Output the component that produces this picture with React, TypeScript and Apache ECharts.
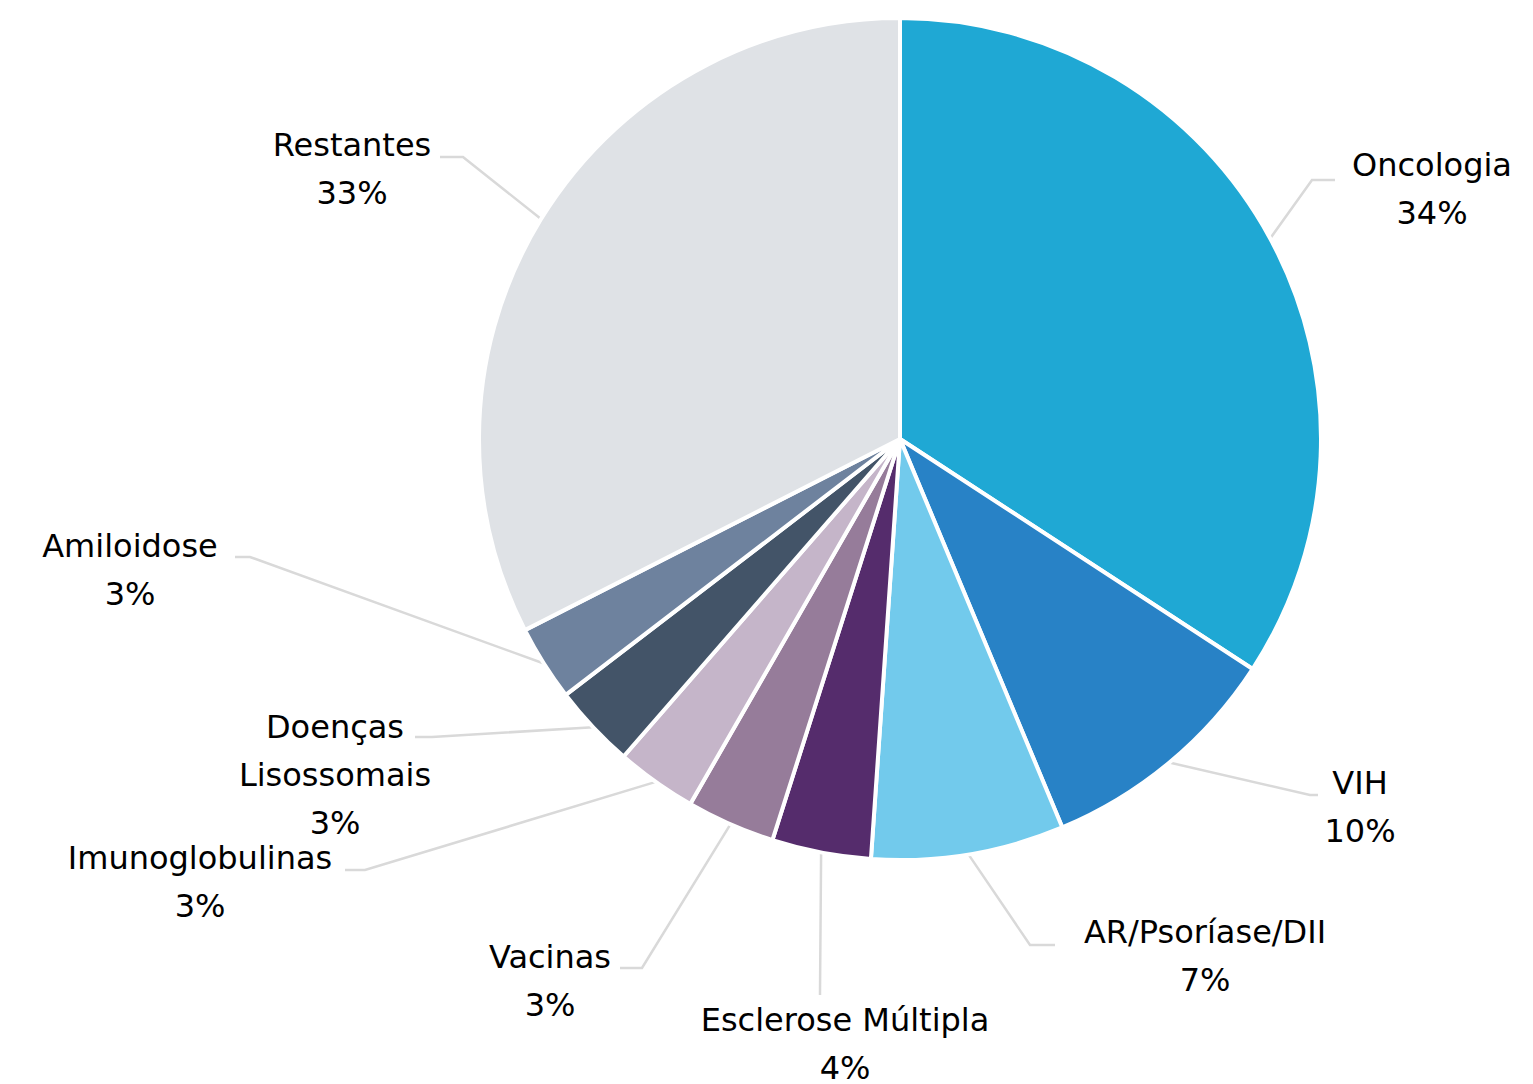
import React, { useEffect, useRef } from "react";
import * as echarts from "echarts";

const categories = [
  "Oncologia",
  "VIH",
  "AR/Psoríase/DII",
  "Esclerose Múltipla",
  "Vacinas",
  "Imunoglobulinas",
  "Doenças\nLisossomais",
  "Amiloidose",
  "Restantes",
];
const values = [34.2, 9.5, 7.4, 3.8, 3.4, 3.1, 3.2, 2.9, 32.5];
const colors = [
  "#1FA8D4",
  "#2882C6",
  "#72CAEC",
  "#552C6C",
  "#967C9A",
  "#C5B5C9",
  "#435468",
  "#6E829E",
  "#DFE2E6",
];

// label layout: [centerX, centerY, elbowX, elbowY, endX, endY]
const labelPlacement = [
  [1432, 189, 1312, 180, 1335, 180],
  [1360, 807, 1310, 795, 1318, 795],
  [1205, 956, 1030, 945, 1055, 945],
  [845, 1044, 820, 993, 820, 995],
  [550, 981, 642, 968, 620, 968],
  [200, 882, 365, 870, 345, 870],
  [335, 775, 432, 737, 415, 737],
  [130, 570, 250, 557, 235, 557],
  [352, 169, 463, 157, 440, 157],
];

export default function App() {
  const ref = useRef<HTMLDivElement>(null);
  useEffect(() => {
    if (!ref.current) return;
    const chart = echarts.init(ref.current, null, { renderer: "svg" });
    chart.setOption({
      animation: false,
      backgroundColor: "#ffffff",
      series: [
        {
          type: "pie",
          center: [900, 439],
          radius: [0, 421],
          startAngle: 90,
          clockwise: true,
          avoidLabelOverlap: false,
          data: categories.map((name, i) => ({
            name,
            value: values[i],
            itemStyle: { color: colors[i] },
          })),
          itemStyle: { borderColor: "#ffffff", borderWidth: 4 },
          label: {
            show: true,
            position: "outside",
            formatter: (p: any) => `${p.name}\n${Math.round(p.value)}%`,
            color: "#000000",
            fontFamily: "DejaVu Sans",
            fontSize: 32,
            lineHeight: 48,
            align: "center",
          },
          labelLine: {
            show: true,
            length: 20,
            length2: 20,
            lineStyle: { color: "#D9D9D9", width: 2.5 },
          },
          labelLayout: (params: any) => {
            const lp = labelPlacement[params.dataIndex];
            const start =
              params.labelLinePoints && params.labelLinePoints[0]
                ? params.labelLinePoints[0]
                : [lp[2], lp[3]];
            return {
              x: lp[0],
              y: lp[1],
              align: "center",
              verticalAlign: "middle",
              labelLinePoints: [start, [lp[2], lp[3]], [lp[4], lp[5]]],
            };
          },
          emphasis: { disabled: true },
        },
      ],
    });
    return () => chart.dispose();
  }, []);
  return (
    <div
      ref={ref}
      style={{ position: "fixed", left: 0, top: 0, width: 1533, height: 1084 }}
    />
  );
}
